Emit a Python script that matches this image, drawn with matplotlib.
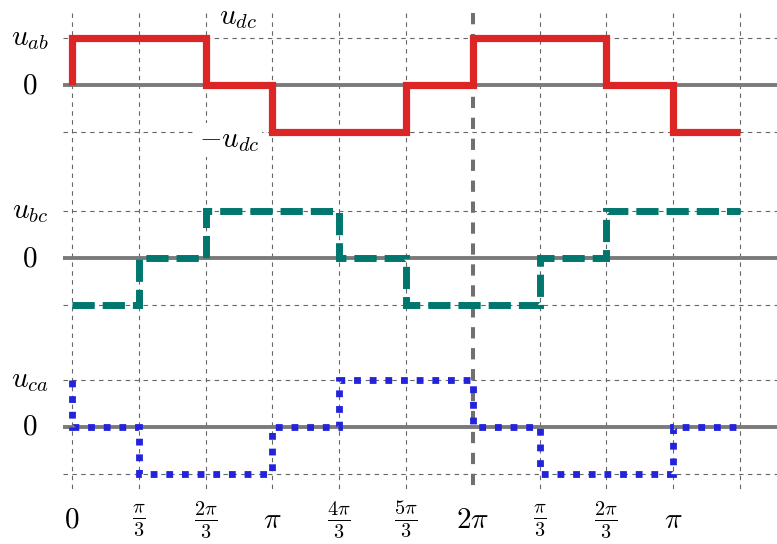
import numpy as np
import matplotlib
matplotlib.use("Agg")
import matplotlib.pyplot as plt

plt.rcParams["mathtext.fontset"] = "cm"

# Line-to-line voltages over 10 intervals of pi/3 (in units of u_dc)
u_ab = [1, 1, 0, -1, -1, 0, 1, 1, 0, -1]
u_bc = [-1, 0, 1, 1, 0, -1, -1, 0, 1, 1]
u_ca = [0, -1, -1, 0, 1, 1, 0, -1, -1, 0]
names = [r"$u_{ab}$", r"$u_{bc}$", r"$u_{ca}$"]
tick_pos = [0, 1, 2, 3, 4, 5, 6, 7, 8, 9]
tick_labels = [r"$0$", r"$\frac{\pi}{3}$", r"$\frac{2\pi}{3}$", r"$\pi$",
               r"$\frac{4\pi}{3}$", r"$\frac{5\pi}{3}$", r"$2\pi$",
               r"$\frac{\pi}{3}$", r"$\frac{2\pi}{3}$", r"$\pi$"]

offsets = [0.0, -3.69, -7.27]
styles = [
    dict(color="#dc2626", lw=5.2, ls="-"),
    dict(color="#00776e", lw=5.0, ls=(0, (3.2, 1.15))),
    dict(color="#2323dc", lw=4.9, ls=(0, (1.0, 1.3))),
]


def step_path(vals):
    # the level just before t=0 is the one of the previous period
    xs, ys = [0], [vals[5]]
    for i, v in enumerate(vals):
        xs += [i, i + 1]
        ys += [v, v]
    return np.array(xs, float), np.array(ys, float)


fig = plt.figure(figsize=(7.77, 5.44), dpi=100)
ax = fig.add_axes([0, 0, 1, 1])
ax.set_xlim(-1.078, 10.554)
ax.set_ylim(-9.766, 1.809)
ax.axis("off")

grid_kw = dict(color="#666666", lw=0.8, ls=(0, (4, 4)), zorder=1)
xmin_h = -0.135
# vertical grid
for k in range(11):
    if k == 6:
        continue
    ax.plot([k, k], [1.53, -8.66], **grid_kw)
ax.plot([6, 6], [1.53, -8.66], color="#707070", lw=2.9,
        ls=(0, (2.8, 2.4)), zorder=1.5)

for off, vals, name, st in zip(offsets, [u_ab, u_bc, u_ca], names, styles):
    for lev in (1, -1):
        ax.plot([xmin_h, 11], [off + lev, off + lev], **grid_kw)
    ax.plot([xmin_h, 11], [off, off], color="#7a7a7a", lw=2.8,
            solid_capstyle="butt", zorder=2)
    xs, ys = step_path(vals)
    ax.plot(xs, ys + off, color=st["color"], lw=st["lw"], ls=st["ls"],
            solid_joinstyle="miter", solid_capstyle="butt",
            dash_capstyle="butt", dash_joinstyle="miter", zorder=4)
    ax.text(-0.629, off + 1.0, name, fontsize=21, ha="center", va="center")
    ax.text(-0.629, off, r"$0$", fontsize=21, ha="center", va="center")

box = dict(facecolor="white", edgecolor="none", pad=2)
ax.text(2.485, 1.45, r"$u_{dc}$", fontsize=21, ha="center", va="center",
        bbox=box, zorder=3)
ax.text(2.35, -1.17, r"$-u_{dc}$", fontsize=21, ha="center", va="center",
        bbox=box, zorder=3)

for p, lab in zip(tick_pos, tick_labels):
    ax.text(p, -9.25, lab, fontsize=21, ha="center", va="center")

fig.savefig("out.png", dpi=100)
